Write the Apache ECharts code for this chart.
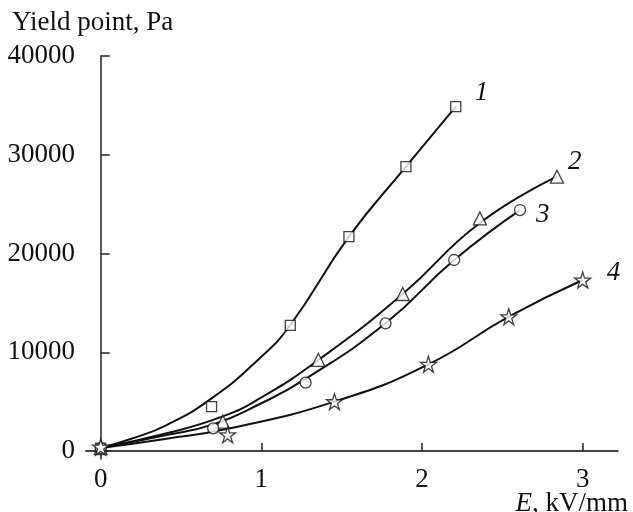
<!DOCTYPE html>
<html>
<head>
<meta charset="utf-8">
<script src="https://cdn.jsdelivr.net/npm/echarts@6/dist/echarts.min.js"></script>
<style>html,body{margin:0;padding:0;background:#fff;}#c{width:633px;height:512px;}</style>
</head>
<body>
<div id="c"></div>
<script>
// Tick labels
var xTicks = [0, 1, 2, 3];
var yTicks = [0, 10000, 20000, 30000, 40000];
var curveNames = ['1', '2', '3', '4'];

// Measured points (markers)
var points1 = [[0,300],[0.69,4490],[1.18,12730],[1.545,21700],[1.90,28790],[2.21,34870]];
var points2 = [[0,300],[0.76,2970],[1.355,9220],[1.88,15900],[2.36,23560],[2.84,27780]];
var points3 = [[0,300],[0.70,2300],[1.275,6920],[1.773,12930],[2.20,19340],[2.61,24400]];
var points4 = [[0,400],[0.79,1650],[1.455,5000],[2.04,8780],[2.54,13600],[3.0,17320]];

// Fitted curves
var curve1 = [[0,300],[0.2,1290],[0.41,2630],[0.69,5330],[0.99,9400],[1.18,12760],[1.545,21700],[1.90,28790],[2.21,34870]];
var curve2 = [[0,300],[0.41,1790],[0.76,3500],[0.99,5330],[1.355,9215],[1.88,15900],[2.36,23090],[2.84,27780]];
var curve3 = [[0,300],[0.41,1620],[0.70,2700],[0.99,4760],[1.275,7300],[1.773,12930],[2.20,19340],[2.61,24400]];
var curve4 = [[0,300],[0.41,1250],[0.79,2250],[1.455,5000],[2.04,8780],[2.54,13600],[3.0,17320]];

var FONT = '"Liberation Serif", "Times New Roman", serif';
var FS = 27;
var starPath = 'path://M50,2 L61.2,36.4 L97.6,36.4 L68.2,57.8 L79.4,92.2 L50,70.9 L20.6,92.2 L31.8,57.8 L2.4,36.4 L38.8,36.4 Z';

var curves = [curve1, curve2, curve3, curve4];
var points = [points1, points2, points3, points4];
var symbols = ['rect', 'triangle', 'circle', starPath];
var symSizes = [10, 13, 11, 16];
var labelOffsets = [[11,-14],[3,-15],[8,5],[16,-7]];

var series = [];
curves.forEach(function (c, i) {
  series.push({
    type: 'line', data: c, smooth: 0.5, showSymbol: false, symbol: 'none',
    lineStyle: {color: '#111', width: 2}, z: 2, silent: true,
    endLabel: {show: true, formatter: curveNames[i], fontFamily: FONT, fontStyle: 'italic',
      fontSize: FS, color: '#111', offset: labelOffsets[i]}
  });
});
points.forEach(function (p, i) {
  series.push({
    type: 'scatter', data: p, symbol: symbols[i], symbolSize: symSizes[i],
    itemStyle: {color: '#fff', borderColor: '#111', borderWidth: 1.3}, z: 5, silent: true
  });
});

var chart = echarts.init(document.getElementById('c'), null, {renderer: 'canvas'});
chart.setOption({
  animation: false,
  backgroundColor: '#fff',
  grid: {left: 86, right: 15.3, top: 56, bottom: 53, containLabel: false},
  title: [
    {text: 'Yield point, Pa', left: 12, top: 9, padding: 0,
     textStyle: {fontFamily: FONT, fontSize: FS, fontWeight: 'normal', color: '#111'}},
    {text: '{i|E}, kV/mm', right: 5, top: 490, padding: 0,
     textStyle: {fontFamily: FONT, fontSize: FS, fontWeight: 'normal', color: '#111',
       rich: {i: {fontFamily: FONT, fontSize: FS, fontStyle: 'italic', color: '#111'}}}}
  ],
  xAxis: {
    type: 'value', min: -0.0915, max: 3.218,
    splitLine: {show: false},
    axisLine: {lineStyle: {color: '#444', width: 2}},
    axisTick: {inside: true, length: 8, lineStyle: {color: '#222', width: 1.5}, customValues: xTicks},
    axisLabel: {customValues: xTicks, margin: 7, fontFamily: FONT, fontSize: FS, color: '#111',
      formatter: function (v) { return String(v); }}
  },
  yAxis: {
    type: 'value', min: -810, max: 40000,
    splitLine: {show: false},
    axisLine: {show: true, lineStyle: {color: '#222', width: 1.5}},
    axisTick: {show: true, inside: true, length: 9, lineStyle: {color: '#222', width: 1.5}, customValues: yTicks},
    axisLabel: {customValues: yTicks, margin: 11, fontFamily: FONT, fontSize: FS, color: '#111',
      formatter: function (v) { return String(v); }}
  },
  series: series
});
</script>
</body>
</html>
